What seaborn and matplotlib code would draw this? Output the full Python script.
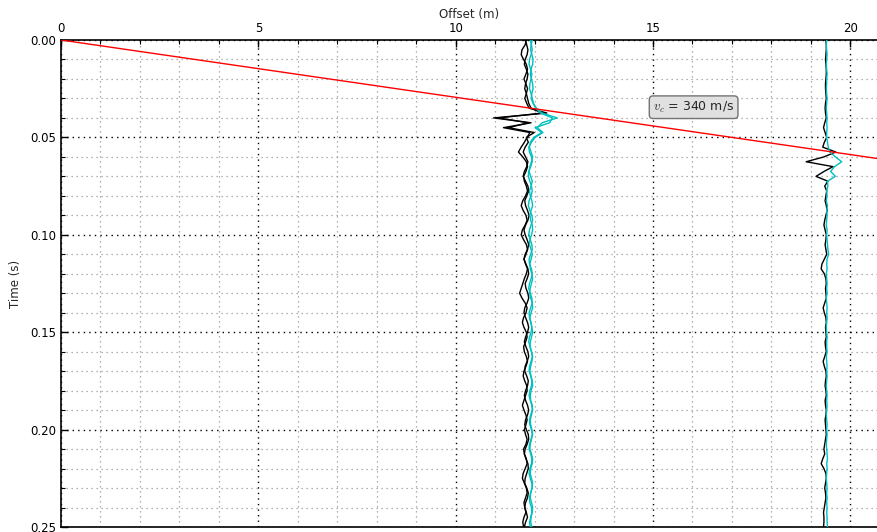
import numpy as np
import pandas as pd
import matplotlib
matplotlib.use("Agg")
import matplotlib.pyplot as plt
from matplotlib.ticker import MultipleLocator, FormatStrFormatter
import seaborn as sns

# ---------------- data ----------------
dt = 0.0025                      # sample interval (s)
n_samples = 101
velocity = 340.0                 # m/s, air-wave velocity
x_max = 20.7
t_max = 0.25

# receiver offsets (m) of each trace
offsets_black_1 = [11.76, 11.79]
offsets_cyan_1 = [11.89, 11.93]
offset_black_2 = 19.38
offset_cyan_2 = 19.40

# wiggle displacements (m) of each trace, one value per sample
black_1a = [0.03, 0.00, -0.08, -0.10, -0.04, 0.03, 0.06, 0.02, -0.03, 0.02,
            0.06, 0.03, -0.01, 0.04, 0.10, 0.55, -0.80, 0.15, -0.55, 0.12,
            0.05, -0.02, -0.10, -0.17, -0.06, 0.03, 0.06, 0.02, -0.04, -0.02,
            0.03, 0.06, 0.01, -0.06, -0.10, -0.05, 0.02, 0.05, 0.00, -0.07,
            -0.10, -0.04, 0.03, 0.06, 0.02, -0.03, 0.01, 0.06, 0.03, -0.02,
            -0.06, -0.10, -0.14, -0.08, 0.00, 0.05, 0.02, -0.04, -0.07, -0.03,
            0.03, 0.05, 0.01, -0.04, -0.02, 0.03, 0.06, 0.02, -0.03, -0.05,
            -0.01, 0.04, 0.05, 0.01, -0.03, -0.07, -0.03, 0.02, 0.05, 0.02,
            -0.02, 0.01, 0.05, 0.02, -0.04, -0.02, 0.03, 0.05, 0.00, -0.05,
            -0.07, -0.02, 0.03, 0.05, 0.01, -0.03, -0.01, 0.02, -0.03, -0.06,
            -0.04]
black_1b = [-0.03, 0.01, 0.04, 0.02, -0.03, -0.05, 0.00, 0.04, 0.02, -0.02,
            -0.04, 0.00, 0.03, 0.06, 0.12, 0.40, -0.70, 0.05, -0.45, 0.20,
            0.00, 0.05, -0.03, -0.08, -0.02, 0.04, 0.01, -0.05, -0.08, -0.02,
            0.04, 0.06, 0.01, -0.04, -0.02, 0.03, 0.07, 0.04, -0.02, -0.06,
            -0.03, 0.02, 0.06, 0.03, -0.03, -0.06, -0.01, 0.04, 0.06, 0.02,
            -0.03, -0.01, 0.04, 0.06, 0.02, -0.04, -0.06, -0.02, 0.03, 0.06,
            0.03, -0.02, -0.05, -0.01, 0.04, 0.06, 0.02, -0.03, -0.04, 0.01,
            0.05, 0.03, -0.02, -0.05, -0.02, 0.03, 0.06, 0.03, -0.02, -0.04,
            0.00, 0.05, 0.06, 0.02, -0.03, -0.05, -0.01, 0.04, 0.05, 0.01,
            -0.03, -0.04, 0.01, 0.05, 0.03, -0.02, -0.04, 0.00, 0.03, -0.02,
            -0.05]
cyan_1a = [0.00, 0.03, 0.05, 0.02, -0.02, -0.03, 0.01, 0.04, 0.02, -0.01,
           -0.02, 0.02, 0.05, 0.08, 0.15, 0.30, 0.68, 0.30, 0.18, 0.32,
           0.12, 0.03, -0.04, -0.02, 0.03, 0.05, 0.01, -0.04, -0.05, -0.01,
           0.03, 0.05, 0.02, -0.03, -0.05, -0.01, 0.04, 0.06, 0.02, -0.02,
           -0.04, 0.00, 0.04, 0.05, 0.01, -0.03, -0.02, 0.03, 0.05, 0.02,
           -0.02, -0.04, 0.00, 0.04, 0.05, 0.01, -0.03, -0.02, 0.02, 0.04,
           0.02, -0.02, -0.04, 0.00, 0.03, 0.05, 0.02, -0.02, -0.03, 0.01,
           0.04, 0.03, -0.01, -0.03, 0.00, 0.04, 0.05, 0.01, -0.02, -0.01,
           0.03, 0.05, 0.02, -0.02, -0.03, 0.01, 0.04, 0.03, -0.01, -0.03,
           0.00, 0.04, 0.05, 0.01, -0.02, -0.01, 0.03, 0.04, 0.01, -0.02,
           0.00]
cyan_1b = [0.01, -0.02, -0.03, 0.00, 0.03, 0.02, -0.02, -0.04, -0.01, 0.02,
           0.03, 0.00, -0.02, 0.03, 0.10, 0.22, 0.52, 0.45, 0.08, 0.25,
           0.05, -0.04, -0.06, -0.02, 0.02, -0.01, -0.05, -0.07, -0.03, 0.01,
           -0.02, -0.06, -0.04, 0.00, 0.02, -0.02, -0.05, -0.03, 0.01, 0.02,
           -0.01, -0.05, -0.06, -0.02, 0.01, -0.02, -0.05, -0.04, 0.00, 0.02,
           -0.01, -0.04, -0.06, -0.03, 0.01, 0.02, -0.02, -0.05, -0.03, 0.00,
           0.02, -0.01, -0.04, -0.05, -0.01, 0.02, 0.00, -0.03, -0.05, -0.02,
           0.01, 0.02, -0.02, -0.04, -0.03, 0.01, 0.02, -0.01, -0.04, -0.03,
           0.00, 0.02, -0.01, -0.04, -0.05, -0.01, 0.02, 0.01, -0.03, -0.04,
           -0.01, 0.02, 0.00, -0.03, -0.04, -0.01, 0.02, 0.01, -0.02, -0.03,
           0.00]
black_2 = [0.00, 0.01, 0.01, 0.00, -0.01, 0.00, 0.01, 0.01, 0.00, -0.01,
           -0.01, 0.00, 0.01, -0.01, -0.02, -0.01, 0.01, -0.03, -0.06, -0.02,
           0.02, -0.04, -0.08, 0.25, -0.05, -0.50, 0.18, -0.05, -0.25, 0.05,
           -0.03, 0.02, 0.00, -0.02, 0.01, 0.03, 0.00, -0.03, -0.05, -0.02,
           0.01, 0.00, -0.02, 0.00, 0.02, -0.04, -0.10, -0.12, -0.04, 0.00,
           0.01, -0.01, 0.00, 0.01, -0.03, -0.07, -0.04, 0.00, 0.01, -0.01,
           0.00, 0.01, -0.02, -0.01, 0.01, -0.03, -0.07, -0.04, 0.00, 0.01,
           -0.01, -0.02, 0.00, 0.01, -0.02, -0.01, 0.01, 0.00, -0.02, -0.01,
           0.00, 0.01, -0.01, -0.03, -0.05, -0.03, -0.08, -0.12, -0.05, 0.00,
           0.01, -0.01, -0.03, -0.01, 0.00, -0.02, -0.04, -0.06, -0.05, -0.05,
           -0.06]
cyan_2 = [0.00, -0.01, 0.00, 0.01, 0.00, -0.01, 0.00, 0.01, 0.00, 0.00,
          -0.01, 0.00, 0.01, 0.00, -0.01, 0.00, 0.01, 0.00, 0.01, 0.00,
          0.00, 0.02, 0.04, 0.08, 0.22, 0.38, 0.20, 0.10, 0.22, 0.02,
          0.03, 0.00, 0.01, -0.01, 0.02, 0.00, 0.01, 0.00, -0.01, 0.01,
          0.00, 0.01, 0.02, 0.03, 0.05, 0.01, 0.00, 0.01, -0.01, 0.00,
          0.01, 0.00, 0.01, -0.01, 0.00, 0.01, 0.00, 0.01, 0.00, -0.01,
          0.00, 0.01, 0.00, 0.00, 0.01, -0.01, 0.00, 0.01, 0.00, 0.01,
          0.00, -0.01, 0.00, 0.01, 0.00, 0.01, 0.00, -0.01, 0.00, 0.01,
          0.00, 0.01, 0.00, -0.01, 0.00, 0.01, 0.02, 0.00, 0.01, 0.00,
          -0.01, 0.00, 0.01, 0.00, 0.01, 0.00, 0.01, 0.00, 0.01, 0.01,
          0.02]

xticks = [0, 5, 10, 15, 20]
yticks = [0.00, 0.05, 0.10, 0.15, 0.20, 0.25]
label_text = r"$v_c$ = 340 m/s"

# ---------------- build table ----------------
time = np.arange(n_samples) * dt
traces = [
    ("black_1a", offsets_black_1[0], black_1a, "k"),
    ("black_1b", offsets_black_1[1], black_1b, "k"),
    ("black_2", offset_black_2, black_2, "k"),
    ("cyan_1a", offsets_cyan_1[0], cyan_1a, "c"),
    ("cyan_1b", offsets_cyan_1[1], cyan_1b, "c"),
    ("cyan_2", offset_cyan_2, cyan_2, "c"),
]
frames = []
for name, off, amp, col in traces:
    frames.append(pd.DataFrame({"trace": name, "x": off + np.asarray(amp),
                                "t": time, "color": col}))
df = pd.concat(frames, ignore_index=True)

# ---------------- plot ----------------
sns.set_style("white")
plt.rcParams["font.family"] = ["DejaVu Sans"]
plt.rcParams["mathtext.fontset"] = "cm"

fig = plt.figure(figsize=(8.78, 5.32), dpi=100)
ax = fig.add_axes([61 / 878, 1 - 527 / 532, 1 - 61 / 878, (527 - 40) / 532])

for name, off, amp, col in traces:
    sub = df[df["trace"] == name]
    sns.lineplot(data=sub, x="x", y="t", orient="y", sort=False,
                 estimator=None, color=col, lw=1.0, ax=ax, zorder=3)

line_x = np.array([0.0, x_max])
sns.lineplot(x=line_x, y=line_x / velocity, color="red", lw=1.0, ax=ax, zorder=4)

ax.text(15.0, 0.0345, label_text, fontsize=9, ha="left", va="center",
        bbox=dict(boxstyle="round,pad=0.3", fc="0.88", ec="0.45", lw=1.0),
        zorder=5)

ax.set_xlim(0, x_max)
ax.set_ylim(t_max, 0)
ax.xaxis.tick_top()
ax.xaxis.set_label_position("top")
ax.set_xticks(xticks)
ax.set_yticks(yticks)
ax.yaxis.set_major_formatter(FormatStrFormatter("%.2f"))
ax.xaxis.set_minor_locator(MultipleLocator(1))
ax.yaxis.set_minor_locator(MultipleLocator(0.01))
ax.tick_params(which="both", direction="in", labelsize=8.5, top=True,
               bottom=False, left=True, right=False, colors="k")
ax.tick_params(which="major", length=5, width=1)
ax.tick_params(which="minor", length=3, width=0.8)
ax.set_xlabel("Offset (m)", fontsize=8.5, labelpad=3)
ax.set_ylabel("Time (s)", fontsize=8.5, labelpad=6)

ax.grid(which="major", linestyle=(0, (1, 3)), color="k", lw=1.0)
ax.grid(which="minor", linestyle=(0, (1, 3)), color="0.6", lw=0.9)
ax.set_axisbelow(True)
for s in ax.spines.values():
    s.set_color("k")
    s.set_linewidth(1.2)
ax.spines["right"].set_visible(False)

fig.savefig("out.png", dpi=100)
